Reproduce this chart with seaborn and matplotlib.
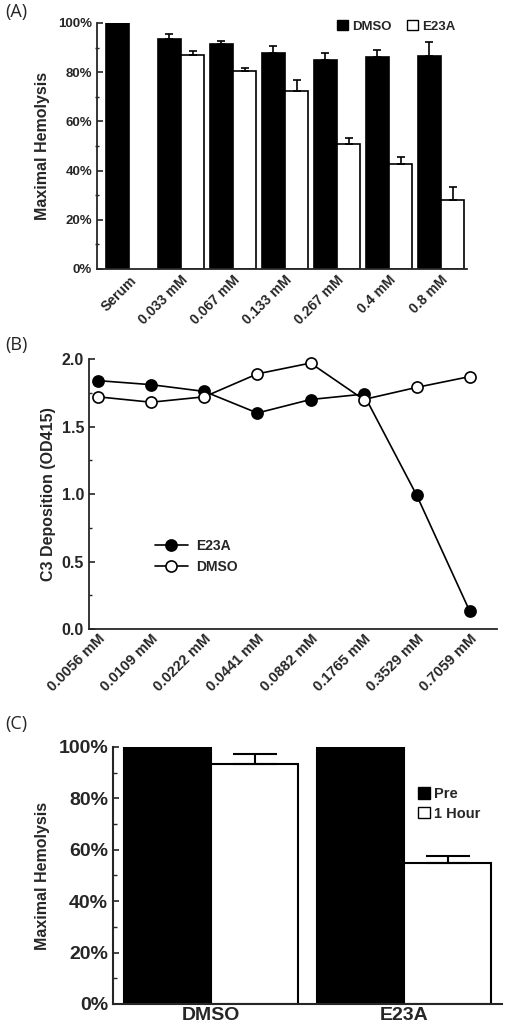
import matplotlib
matplotlib.use("Agg")
import matplotlib.pyplot as plt
import pandas as pd
import seaborn as sns
from matplotlib.lines import Line2D
from matplotlib.patches import Patch
from matplotlib.ticker import MultipleLocator, PercentFormatter, FormatStrFormatter

sns.set_style("ticks")
plt.rcParams['font.family'] = ['Liberation Sans', 'DejaVu Sans']
plt.rcParams['font.weight'] = 'bold'

# Panel A data: maximal hemolysis by concentration
conc_a = ['Serum', '0.033 mM', '0.067 mM', '0.133 mM', '0.267 mM', '0.4 mM', '0.8 mM']
dmso_a = [100, 93.6, 91.5, 87.7, 84.8, 86.0, 86.4]
dmso_a_err = [0, 1.9, 1.3, 3.0, 2.9, 2.9, 6.0]
e23a_a = [None, 87.1, 80.6, 72.5, 50.8, 42.5, 28.2]
e23a_a_err = [0, 1.4, 1.1, 4.2, 2.5, 2.9, 5.0]

# Panel B data: C3 deposition (OD415)
conc_b = ['0.0056 mM', '0.0109 mM', '0.0222 mM', '0.0441 mM',
          '0.0882 mM', '0.1765 mM', '0.3529 mM', '0.7059 mM']
e23a_b = [1.84, 1.81, 1.76, 1.60, 1.70, 1.74, 0.99, 0.13]
dmso_b = [1.72, 1.68, 1.72, 1.89, 1.97, 1.70, 1.79, 1.87]

# Panel C data: pre vs 1 hour
groups_c = ['DMSO', 'E23A']
pre_c = [100, 100]
hour_c = [93.5, 54.8]
hour_c_err = [3.7, 2.8]

fig = plt.figure(figsize=(5.07, 10.29), dpi=100)

# ---------------- Panel A ----------------
rows = []
for i, c in enumerate(conc_a):
    rows.append({'conc': c, 'treat': 'DMSO', 'val': dmso_a[i], 'err': dmso_a_err[i]})
    if e23a_a[i] is not None:
        rows.append({'conc': c, 'treat': 'E23A', 'val': e23a_a[i], 'err': e23a_a_err[i]})
df_a = pd.DataFrame(rows)

ax1 = fig.add_axes([0.1913, 0.7386, 0.7298, 0.2391])
sns.barplot(data=df_a, x='conc', y='val', hue='treat', order=conc_a,
            hue_order=['DMSO', 'E23A'], palette=['black', 'white'],
            edgecolor='black', linewidth=1.2, width=0.9, errorbar=None,
            legend=False, ax=ax1)
for cont, treat in zip(ax1.containers, ['DMSO', 'E23A']):
    sub = df_a[df_a.treat == treat]
    xs = [p.get_x() + p.get_width() / 2 for p in cont]
    hs = [p.get_height() for p in cont]
    errs = list(sub.err)
    keep = [k for k in range(len(xs)) if errs[k] > 0]
    ax1.errorbar([xs[k] for k in keep], [hs[k] for k in keep],
                 yerr=[[0] * len(keep), [errs[k] for k in keep]],
                 fmt='none', ecolor='black', elinewidth=1.2, capsize=3, capthick=1.2)
ax1.set_xlim(-0.615, 6.5)
ax1.set_ylim(0, 100)
ax1.yaxis.set_major_locator(MultipleLocator(20))
ax1.yaxis.set_minor_locator(MultipleLocator(10))
ax1.yaxis.set_major_formatter(PercentFormatter(decimals=0))
ax1.tick_params(axis='y', which='major', direction='in', length=4, width=1.2, labelsize=9.5)
ax1.tick_params(axis='y', which='minor', direction='inout', length=3, width=1)
ax1.tick_params(axis='x', length=0, labelsize=10, pad=3)
plt.setp(ax1.get_xticklabels(), rotation=45, ha='right', rotation_mode='anchor')
ax1.set_xlabel('')
ax1.set_ylabel('Maximal Hemolysis', fontsize=11.5, fontweight='bold', labelpad=6)
for s in ['top', 'right']:
    ax1.spines[s].set_visible(False)
for s in ['left', 'bottom']:
    ax1.spines[s].set_linewidth(1.3)
h_a = [Patch(facecolor='black', edgecolor='black'), Patch(facecolor='white', edgecolor='black')]
ax1.legend(h_a, ['DMSO', 'E23A'], ncol=2, frameon=False, loc='upper right',
           bbox_to_anchor=(1.0, 1.06), fontsize=9.5, handlelength=0.8, handleheight=0.8,
           handletextpad=0.3, columnspacing=1.2)

# ---------------- Panel B ----------------
df_b = pd.DataFrame({'conc': conc_b * 2,
                     'od': e23a_b + dmso_b,
                     'treat': ['E23A'] * len(conc_b) + ['DMSO'] * len(conc_b)})
ax2 = fig.add_axes([0.1755, 0.3887, 0.8047, 0.2624])
for treat, face in [('E23A', 'black'), ('DMSO', 'white')]:
    sub = df_b[df_b.treat == treat]
    sns.lineplot(data=sub, x='conc', y='od', color='black', linewidth=1.2,
                 marker='o', markersize=8, markerfacecolor=face,
                 markeredgecolor='black', markeredgewidth=1.2, sort=False,
                 clip_on=False, zorder=3, ax=ax2)
ax2.set_xlim(-0.17, 7.51)
ax2.set_ylim(0, 2.0)
ax2.yaxis.set_major_locator(MultipleLocator(0.5))
ax2.yaxis.set_minor_locator(MultipleLocator(0.25))
ax2.yaxis.set_major_formatter(FormatStrFormatter('%.1f'))
ax2.tick_params(axis='y', which='major', direction='in', length=4, width=1.2, labelsize=11.5)
ax2.tick_params(axis='y', which='minor', direction='in', length=2.5, width=1)
ax2.tick_params(axis='x', length=0, labelsize=10.5, pad=2)
plt.setp(ax2.get_xticklabels(), rotation=45, ha='right', rotation_mode='anchor')
ax2.set_xlabel('')
ax2.set_ylabel('C3 Deposition (OD415)', fontsize=11.5, fontweight='bold', labelpad=4)
for s in ['top', 'right']:
    ax2.spines[s].set_visible(False)
for s in ['left', 'bottom']:
    ax2.spines[s].set_linewidth(1.3)
h_b = [Line2D([], [], color='black', lw=1.2, marker='o', markersize=8,
              markerfacecolor=f, markeredgecolor='black', markeredgewidth=1.2)
       for f in ['black', 'white']]
ax2.legend(h_b, ['E23A', 'DMSO'], frameon=False, loc='center left',
           bbox_to_anchor=(0.13, 0.27), fontsize=10, handlelength=2.4,
           handletextpad=0.6, labelspacing=0.5)

# ---------------- Panel C ----------------
df_c = pd.DataFrame({'group': groups_c * 2,
                     'time': ['Pre'] * 2 + ['1 Hour'] * 2,
                     'val': pre_c + hour_c,
                     'err': [0, 0] + hour_c_err})
ax3 = fig.add_axes([0.2229, 0.0243, 0.7673, 0.2498])
sns.barplot(data=df_c, x='group', y='val', hue='time', order=groups_c,
            hue_order=['Pre', '1 Hour'], palette=['black', 'white'],
            edgecolor='black', linewidth=1.5, width=0.9, errorbar=None,
            legend=False, ax=ax3)
cont = ax3.containers[1]
xs = [p.get_x() + p.get_width() / 2 for p in cont]
hs = [p.get_height() for p in cont]
ax3.errorbar(xs, hs, yerr=[[0] * len(xs), hour_c_err], fmt='none', ecolor='black',
             elinewidth=1.5, capsize=16, capthick=1.5)
ax3.set_xlim(-0.508, 1.507)
ax3.set_ylim(0, 100)
ax3.yaxis.set_major_locator(MultipleLocator(20))
ax3.yaxis.set_minor_locator(MultipleLocator(10))
ax3.yaxis.set_major_formatter(PercentFormatter(decimals=0))
ax3.tick_params(axis='y', which='major', direction='in', length=4, width=1.2, labelsize=14)
ax3.tick_params(axis='y', which='minor', direction='in', length=3, width=1)
ax3.tick_params(axis='x', length=0, labelsize=14, pad=2)
ax3.set_xlabel('')
ax3.set_ylabel('Maximal Hemolysis', fontsize=11.5, fontweight='bold', labelpad=6)
for s in ['top', 'right']:
    ax3.spines[s].set_visible(False)
for s in ['left', 'bottom']:
    ax3.spines[s].set_linewidth(1.5)
h_c = [Patch(facecolor='black', edgecolor='black'), Patch(facecolor='white', edgecolor='black')]
ax3.legend(h_c, ['Pre', '1 Hour'], frameon=False, loc='upper left',
           bbox_to_anchor=(0.75, 0.895), fontsize=10.5, handlelength=0.8,
           handleheight=0.8, handletextpad=0.3, labelspacing=0.4)

# panel letters
for y, lab in [(0.997, '(A)'), (0.673, '(B)'), (0.305, '(C)')]:
    fig.text(0.01, y, lab, fontsize=13, fontweight='normal', family=['Open Sans', 'DejaVu Sans'],
             va='top', ha='left')

fig.savefig('out.png', dpi=100)
